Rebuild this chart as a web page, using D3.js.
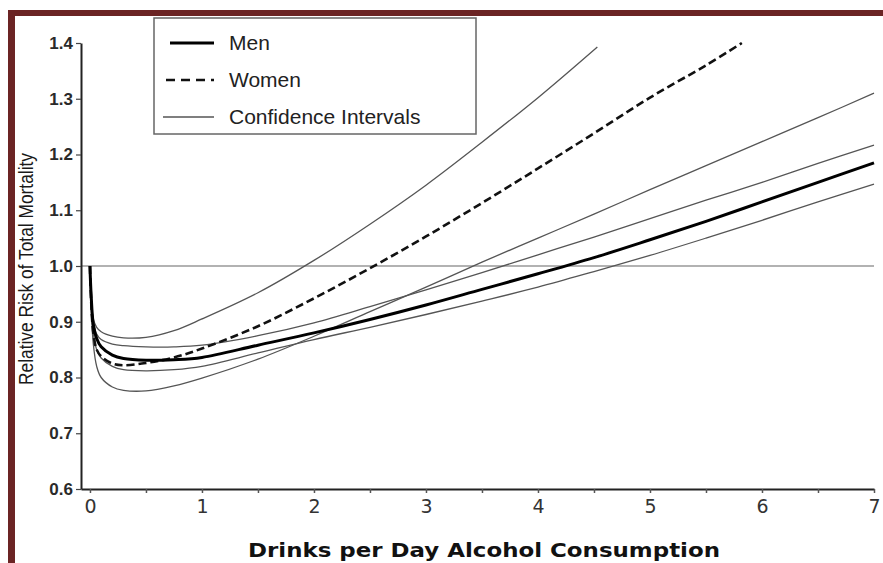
<!DOCTYPE html>
<html>
<head>
<meta charset="utf-8">
<script src="https://cdn.jsdelivr.net/npm/d3@7"></script>
<style>
  body { margin: 0; background: #fff; }
  svg { display: block; }
</style>
</head>
<body>
<script>
// drinks per day where each curve was read
const menX   = [0, 0.01, 0.03, 0.06, 0.1, 0.2, 0.3, 0.5, 0.75, 1, 1.5, 2, 2.5, 3, 3.5, 4, 4.5, 5, 5.5, 6, 6.5, 7];
const men    = [1.0, 0.95, 0.895, 0.87, 0.855, 0.84, 0.834, 0.831, 0.832, 0.836, 0.858, 0.88, 0.904, 0.93, 0.958, 0.986, 1.015, 1.047, 1.08, 1.115, 1.15, 1.185];
const menUpper = [1.0, 0.95, 0.9, 0.878, 0.868, 0.86, 0.857, 0.855, 0.855, 0.858, 0.875, 0.898, 0.927, 0.957, 0.988, 1.02, 1.052, 1.085, 1.118, 1.15, 1.184, 1.217];
const menLower = [1.0, 0.94, 0.88, 0.85, 0.835, 0.82, 0.814, 0.812, 0.814, 0.82, 0.844, 0.868, 0.89, 0.913, 0.937, 0.962, 0.99, 1.019, 1.05, 1.082, 1.115, 1.147];

const womenX = [0, 0.01, 0.03, 0.06, 0.1, 0.2, 0.3, 0.5, 0.75, 1, 1.5, 2, 2.5, 3, 3.5, 4, 4.5, 5, 5.5, 5.82];
const women  = [1.0, 0.94, 0.88, 0.85, 0.838, 0.825, 0.822, 0.826, 0.836, 0.852, 0.892, 0.942, 0.996, 1.053, 1.113, 1.175, 1.238, 1.302, 1.36, 1.40];

const womenUpperX = [0, 0.01, 0.03, 0.06, 0.1, 0.2, 0.3, 0.5, 0.75, 1, 1.5, 2, 2.5, 3, 3.5, 4, 4.53];
const womenUpper  = [1.0, 0.95, 0.905, 0.89, 0.882, 0.874, 0.871, 0.872, 0.884, 0.905, 0.952, 1.01, 1.075, 1.145, 1.222, 1.302, 1.393];

const womenLowerX = [0, 0.01, 0.03, 0.06, 0.1, 0.2, 0.3, 0.5, 0.75, 1, 1.5, 2, 2.5, 3, 3.5, 4, 4.5, 5, 5.5, 6, 6.5, 7];
const womenLower  = [1.0, 0.93, 0.86, 0.82, 0.8, 0.783, 0.777, 0.776, 0.785, 0.799, 0.833, 0.874, 0.918, 0.962, 1.007, 1.05, 1.093, 1.137, 1.18, 1.223, 1.266, 1.31];

const yTicks = [0.6, 0.7, 0.8, 0.9, 1.0, 1.1, 1.2, 1.3, 1.4];
const xTicks = [0, 0.5, 1, 1.5, 2, 2.5, 3, 3.5, 4, 4.5, 5, 5.5, 6, 6.5, 7];
const legendLabels = ["Men", "Women", "Confidence Intervals"];

const W = 883, H = 563;
const svg = d3.select("body").append("svg")
    .attr("width", W).attr("height", H);

// maroon frame
svg.append("rect").attr("x", 8).attr("y", 10).attr("width", W - 8).attr("height", 6).attr("fill", "#6b2424");
svg.append("rect").attr("x", 8).attr("y", 10).attr("width", 7).attr("height", H - 10).attr("fill", "#6b2424");

const x = d3.scaleLinear().domain([-0.08, 7]).range([81, 874]);
const y = d3.scaleLinear().domain([0.6, 1.4]).range([489, 43]);

// reference line at 1.0
svg.append("line")
    .attr("x1", x(-0.08)).attr("x2", x(7))
    .attr("y1", y(1)).attr("y2", y(1))
    .attr("stroke", "#999").attr("stroke-width", 1.6);

const line = d3.line()
    .x(d => x(d[0]))
    .y(d => y(d[1]))
    .curve(d3.curveCatmullRom.alpha(0.5));

const zip = (xs, ys) => xs.map((v, i) => [v, ys[i]]);

// confidence intervals
[[menX, menUpper], [menX, menLower], [womenUpperX, womenUpper], [womenLowerX, womenLower]].forEach(s => {
  svg.append("path")
      .attr("d", line(zip(s[0], s[1])))
      .attr("fill", "none")
      .attr("stroke", "#555")
      .attr("stroke-width", 1.3);
});

svg.append("path")
    .attr("d", line(zip(womenX, women)))
    .attr("fill", "none")
    .attr("stroke", "#111")
    .attr("stroke-width", 2.6)
    .attr("stroke-dasharray", "8,4");

svg.append("path")
    .attr("d", line(zip(menX, men)))
    .attr("fill", "none")
    .attr("stroke", "#000")
    .attr("stroke-width", 3);

// y axis
const yAxis = d3.axisLeft(y)
    .tickValues(yTicks)
    .tickFormat(d3.format(".1f"))
    .tickSize(5)
    .tickSizeOuter(0)
    .tickPadding(3);

const gy = svg.append("g")
    .attr("transform", "translate(81,0)")
    .call(yAxis);
gy.select(".domain").attr("stroke", "#222").attr("stroke-width", 2);
gy.selectAll(".tick line").attr("stroke", "#444").attr("stroke-width", 1.2);
gy.selectAll("text")
    .attr("font-family", "'Liberation Sans', Arial, sans-serif")
    .attr("font-weight", "bold")
    .attr("font-size", 17)
    .attr("fill", "#2a2a2a");

// x axis
const xAxis = d3.axisBottom(x)
    .tickValues(xTicks)
    .tickFormat(d => Number.isInteger(d) ? d : "")
    .tickSize(4)
    .tickSizeOuter(0)
    .tickPadding(7);

const gx = svg.append("g")
    .attr("transform", "translate(0,489)")
    .call(xAxis);
gx.select(".domain").attr("stroke", "#222").attr("stroke-width", 2);
gx.selectAll(".tick line").attr("stroke", "#555").attr("stroke-width", 1.5);
gx.selectAll("text")
    .attr("font-family", "'DejaVu Sans', Verdana, sans-serif")
    .attr("font-size", 19)
    .attr("fill", "#333");

// axis titles
svg.append("text")
    .attr("x", 484).attr("y", 557)
    .attr("text-anchor", "middle")
    .attr("font-family", "'DejaVu Sans', Verdana, sans-serif")
    .attr("font-weight", "bold")
    .attr("font-size", 20)
    .attr("textLength", 472)
    .attr("lengthAdjust", "spacingAndGlyphs")
    .attr("fill", "#111")
    .text("Drinks per Day Alcohol Consumption");

svg.append("text")
    .attr("transform", "translate(33,269) rotate(-90)")
    .attr("text-anchor", "middle")
    .attr("font-family", "'Liberation Sans Narrow', 'Arial Narrow', sans-serif")
    .attr("font-size", 20)
    .attr("textLength", 232)
    .attr("lengthAdjust", "spacingAndGlyphs")
    .attr("fill", "#1a1a1a")
    .text("Relative Risk of Total Mortality");

// legend
const legend = svg.append("g");
legend.append("rect")
    .attr("x", 154).attr("y", 18)
    .attr("width", 322).attr("height", 116)
    .attr("fill", "#fff")
    .attr("stroke", "#666")
    .attr("stroke-width", 1.5);

const legendStyle = [
  {x1: 170, w: 3, dash: null, color: "#000"},
  {x1: 166, w: 2.6, dash: "9,6", color: "#111"},
  {x1: 163, w: 1.4, dash: null, color: "#555"}
];

legendLabels.forEach((label, i) => {
  const ly = 43 + i * 37;
  const st = legendStyle[i];
  legend.append("line")
      .attr("x1", st.x1).attr("x2", 214)
      .attr("y1", ly).attr("y2", ly)
      .attr("stroke", st.color)
      .attr("stroke-width", st.w)
      .attr("stroke-dasharray", st.dash);
  legend.append("text")
      .attr("x", 229).attr("y", ly + 5)
      .attr("dy", "0.1em")
      .attr("font-family", "'Liberation Sans', Arial, sans-serif")
      .attr("font-size", 21)
      .attr("fill", "#222")
      .text(label);
});
</script>
</body>
</html>
